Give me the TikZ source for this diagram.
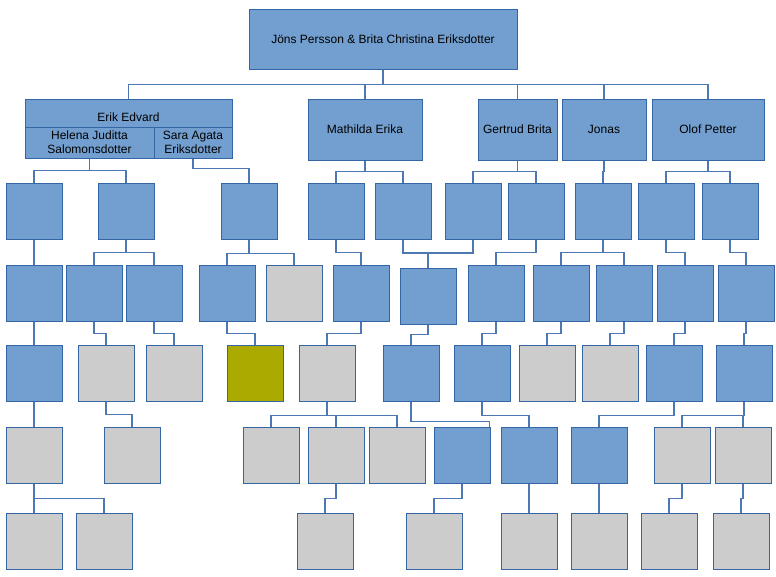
\documentclass[tikz,border=0pt]{standalone}
\usepackage{fontspec}
\setmainfont{Liberation Sans}
\usetikzlibrary{positioning}
\definecolor{personcolor}{RGB}{114,159,207}
\definecolor{unknowncolor}{RGB}{204,204,204}
\definecolor{markedcolor}{RGB}{170,170,0}
\definecolor{edgecolor}{RGB}{52,101,164}
\definecolor{linkcolor}{RGB}{78,120,178}
\tikzset{
person/.style={
  draw=edgecolor,
  line width=1pt,
  fill=personcolor,
  inner sep=0pt,
  minimum width=56pt,
  minimum height=56pt,
  align=center,
  font=\fontsize{12}{14}\selectfont
},
unknown/.style={
  person,
  fill=unknowncolor
},
marked/.style={
  person,
  fill=markedcolor
},
namebox/.style={
  person,
  minimum height=61pt
},
link/.style={
  draw=linkcolor,
  line width=1.1pt
},
elbow/.style={
  to path={-- ++(0,#1) -| (\tikztotarget)}
}
}

\begin{document}
\begin{tikzpicture}[x=1pt, y=-1pt]
      \path[use as bounding box, fill=white] (0,0) rectangle (776,576);

      % parents and their children
      \node[namebox, minimum width=268pt, minimum height=60pt] (root) at (383,39) {Jöns Persson \& Brita Christina Eriksdotter};
      \node[person, minimum width=207pt, minimum height=28pt, text height=17pt, text depth=0pt] (erik) at (128.5,113) {Erik Edvard};
      \node[person, minimum width=129pt, minimum height=31pt, anchor=north west, yshift=1pt] (helena) at (erik.south west) {Helena Juditta\\Salomonsdotter};
      \node[person, minimum width=78pt, minimum height=31pt, anchor=north east, yshift=1pt] (sara) at (erik.south east) {Sara Agata\\Eriksdotter};
      \node[namebox, minimum width=114pt] (mathilda) at (365,129.5) {Mathilda Erika};
      \node[namebox, minimum width=79pt] (gertrud) at (517.5,129.5) {Gertrud Brita};
      \node[namebox, minimum width=84pt] (jonas) at (604,129.5) {Jonas};
      \node[namebox, minimum width=112pt] (olof) at (708,129.5) {Olof Petter};

      % grandchildren
      \node[person] (a1) at (34,211) {};
      \node[person] (a2) at (126,211) {};
      \node[person] (a3) at (249,211) {};
      \node[person] (a4) at (336,211) {};
      \node[person] (a5) at (403,211) {};
      \node[person] (a6) at (473,211) {};
      \node[person] (a7) at (536,211) {};
      \node[person] (a8) at (603,211) {};
      \node[person] (a9) at (666,211) {};
      \node[person] (a10) at (730,211) {};

      \node[person] (b1) at (34,293) {};
      \node[person] (b2) at (94,293) {};
      \node[person] (b3) at (154,293) {};
      \node[person] (b4) at (227,293) {};
      \node[unknown] (b5) at (294,293) {};
      \node[person] (b6) at (361,293) {};
      \node[person] (b7) at (428,296) {};
      \node[person] (b8) at (496,293) {};
      \node[person] (b9) at (561,293) {};
      \node[person] (b10) at (624,293) {};
      \node[person] (b11) at (685,293) {};
      \node[person] (b12) at (746,293) {};

      \node[person] (c1) at (34,373) {};
      \node[unknown] (c2) at (106,373) {};
      \node[unknown] (c3) at (174,373) {};
      \node[marked] (c4) at (255,373) {};
      \node[unknown] (c5) at (327,373) {};
      \node[person] (c6) at (411,373) {};
      \node[person] (c7) at (482,373) {};
      \node[unknown] (c8) at (547,373) {};
      \node[unknown] (c9) at (610,373) {};
      \node[person] (c10) at (674,373) {};
      \node[person] (c11) at (744,373) {};

      \node[unknown] (d1) at (34,455) {};
      \node[unknown] (d2) at (132,455) {};
      \node[unknown] (d3) at (271,455) {};
      \node[unknown] (d4) at (336,455) {};
      \node[unknown] (d5) at (397,455) {};
      \node[person] (d6) at (462,455) {};
      \node[person] (d7) at (529,455) {};
      \node[person] (d8) at (599,455) {};
      \node[unknown] (d9) at (682,455) {};
      \node[unknown] (d10) at (743,455) {};

      \node[unknown] (e1) at (34,541) {};
      \node[unknown] (e2) at (104,541) {};
      \node[unknown] (e3) at (325,541) {};
      \node[unknown] (e4) at (434,541) {};
      \node[unknown] (e5) at (529,541) {};
      \node[unknown] (e6) at (599,541) {};
      \node[unknown] (e7) at (669,541) {};
      \node[unknown] (e8) at (741,541) {};

      % links
      \draw[link, elbow=15] (root.south) to (erik.north);
      \draw[link, elbow=15] (root.south) to (mathilda.north);
      \draw[link, elbow=15] (root.south) to (gertrud.north);
      \draw[link, elbow=15] (root.south) to (jonas.north);
      \draw[link, elbow=15] (root.south) to (olof.north);

      \draw[link, elbow=12] (helena.south) to (a1.north);
      \draw[link, elbow=12] (helena.south) to (a2.north);
      \draw[link, elbow=10] (sara.south) to (a3.north);
      \draw[link, elbow=11] (mathilda.south) to (a4.north);
      \draw[link, elbow=11] (mathilda.south) to (a5.north);
      \draw[link, elbow=11] (gertrud.south) to (a6.north);
      \draw[link, elbow=11] (gertrud.south) to (a7.north);
      \draw[link, elbow=11] (jonas.south) to (a8.north);
      \draw[link, elbow=11] (olof.south) to (a9.north);
      \draw[link, elbow=11] (olof.south) to (a10.north);

      \draw[link, elbow=13] (a1.south) to (b1.north);
      \draw[link, elbow=13] (a2.south) to (b2.north);
      \draw[link, elbow=13] (a2.south) to (b3.north);
      \draw[link, elbow=14] (a3.south) to (b4.north);
      \draw[link, elbow=14] (a3.south) to (b5.north);
      \draw[link, elbow=13] (a4.south) to (b6.north);
      \coordinate (couple) at (428,253);
      \draw[link] (a5.south) |- (couple) -| (a6.south);
      \draw[link] (couple) -- (b7.north);
      \draw[link, elbow=13] (a7.south) to (b8.north);
      \draw[link, elbow=13] (a8.south) to (b9.north);
      \draw[link, elbow=13] (a8.south) to (b10.north);
      \draw[link, elbow=13] (a9.south) to (b11.north);
      \draw[link, elbow=13] (a10.south) to (b12.north);

      \draw[link, elbow=12] (b1.south) to (c1.north);
      \draw[link, elbow=12] (b2.south) to (c2.north);
      \draw[link, elbow=12] (b3.south) to (c3.north);
      \draw[link, elbow=12] (b4.south) to (c4.north);
      \draw[link, elbow=12] (b6.south) to (c5.north);
      \draw[link, elbow=10] (b7.south) to (c6.north);
      \draw[link, elbow=12] (b8.south) to (c7.north);
      \draw[link, elbow=12] (b9.south) to (c8.north);
      \draw[link, elbow=12] (b10.south) to (c9.north);
      \draw[link, elbow=12] (b11.south) to (c10.north);
      \draw[link, elbow=12] (b12.south) to (c11.north);

      \draw[link, elbow=14] (c1.south) to (d1.north);
      \draw[link, elbow=13] (c2.south) to (d2.north);
      \draw[link, elbow=14] (c5.south) to (d3.north);
      \draw[link, elbow=14] (c5.south) to (d4.north);
      \draw[link, elbow=14] (c5.south) to (d5.north);
      \draw[link, elbow=20] (c6.south) to ([xshift=-1pt]d6.north east);
      \draw[link, elbow=14] (c7.south) to (d7.north);
      \draw[link, elbow=14] (c10.south) to (d8.north);
      \draw[link, elbow=14] (c11.south) to (d9.north);
      \draw[link, elbow=14] (c11.south) to (d10.north);

      \draw[link, elbow=15] (d1.south) to (e1.north);
      \draw[link, elbow=15] (d1.south) to (e2.north);
      \draw[link, elbow=15] (d4.south) to (e3.north);
      \draw[link, elbow=15] (d6.south) to (e4.north);
      \draw[link, elbow=15] (d7.south) to (e5.north);
      \draw[link, elbow=15] (d8.south) to (e6.north);
      \draw[link, elbow=15] (d9.south) to (e7.north);
      \draw[link, elbow=15] (d10.south) to (e8.north);
    \end{tikzpicture}
\end{document}
